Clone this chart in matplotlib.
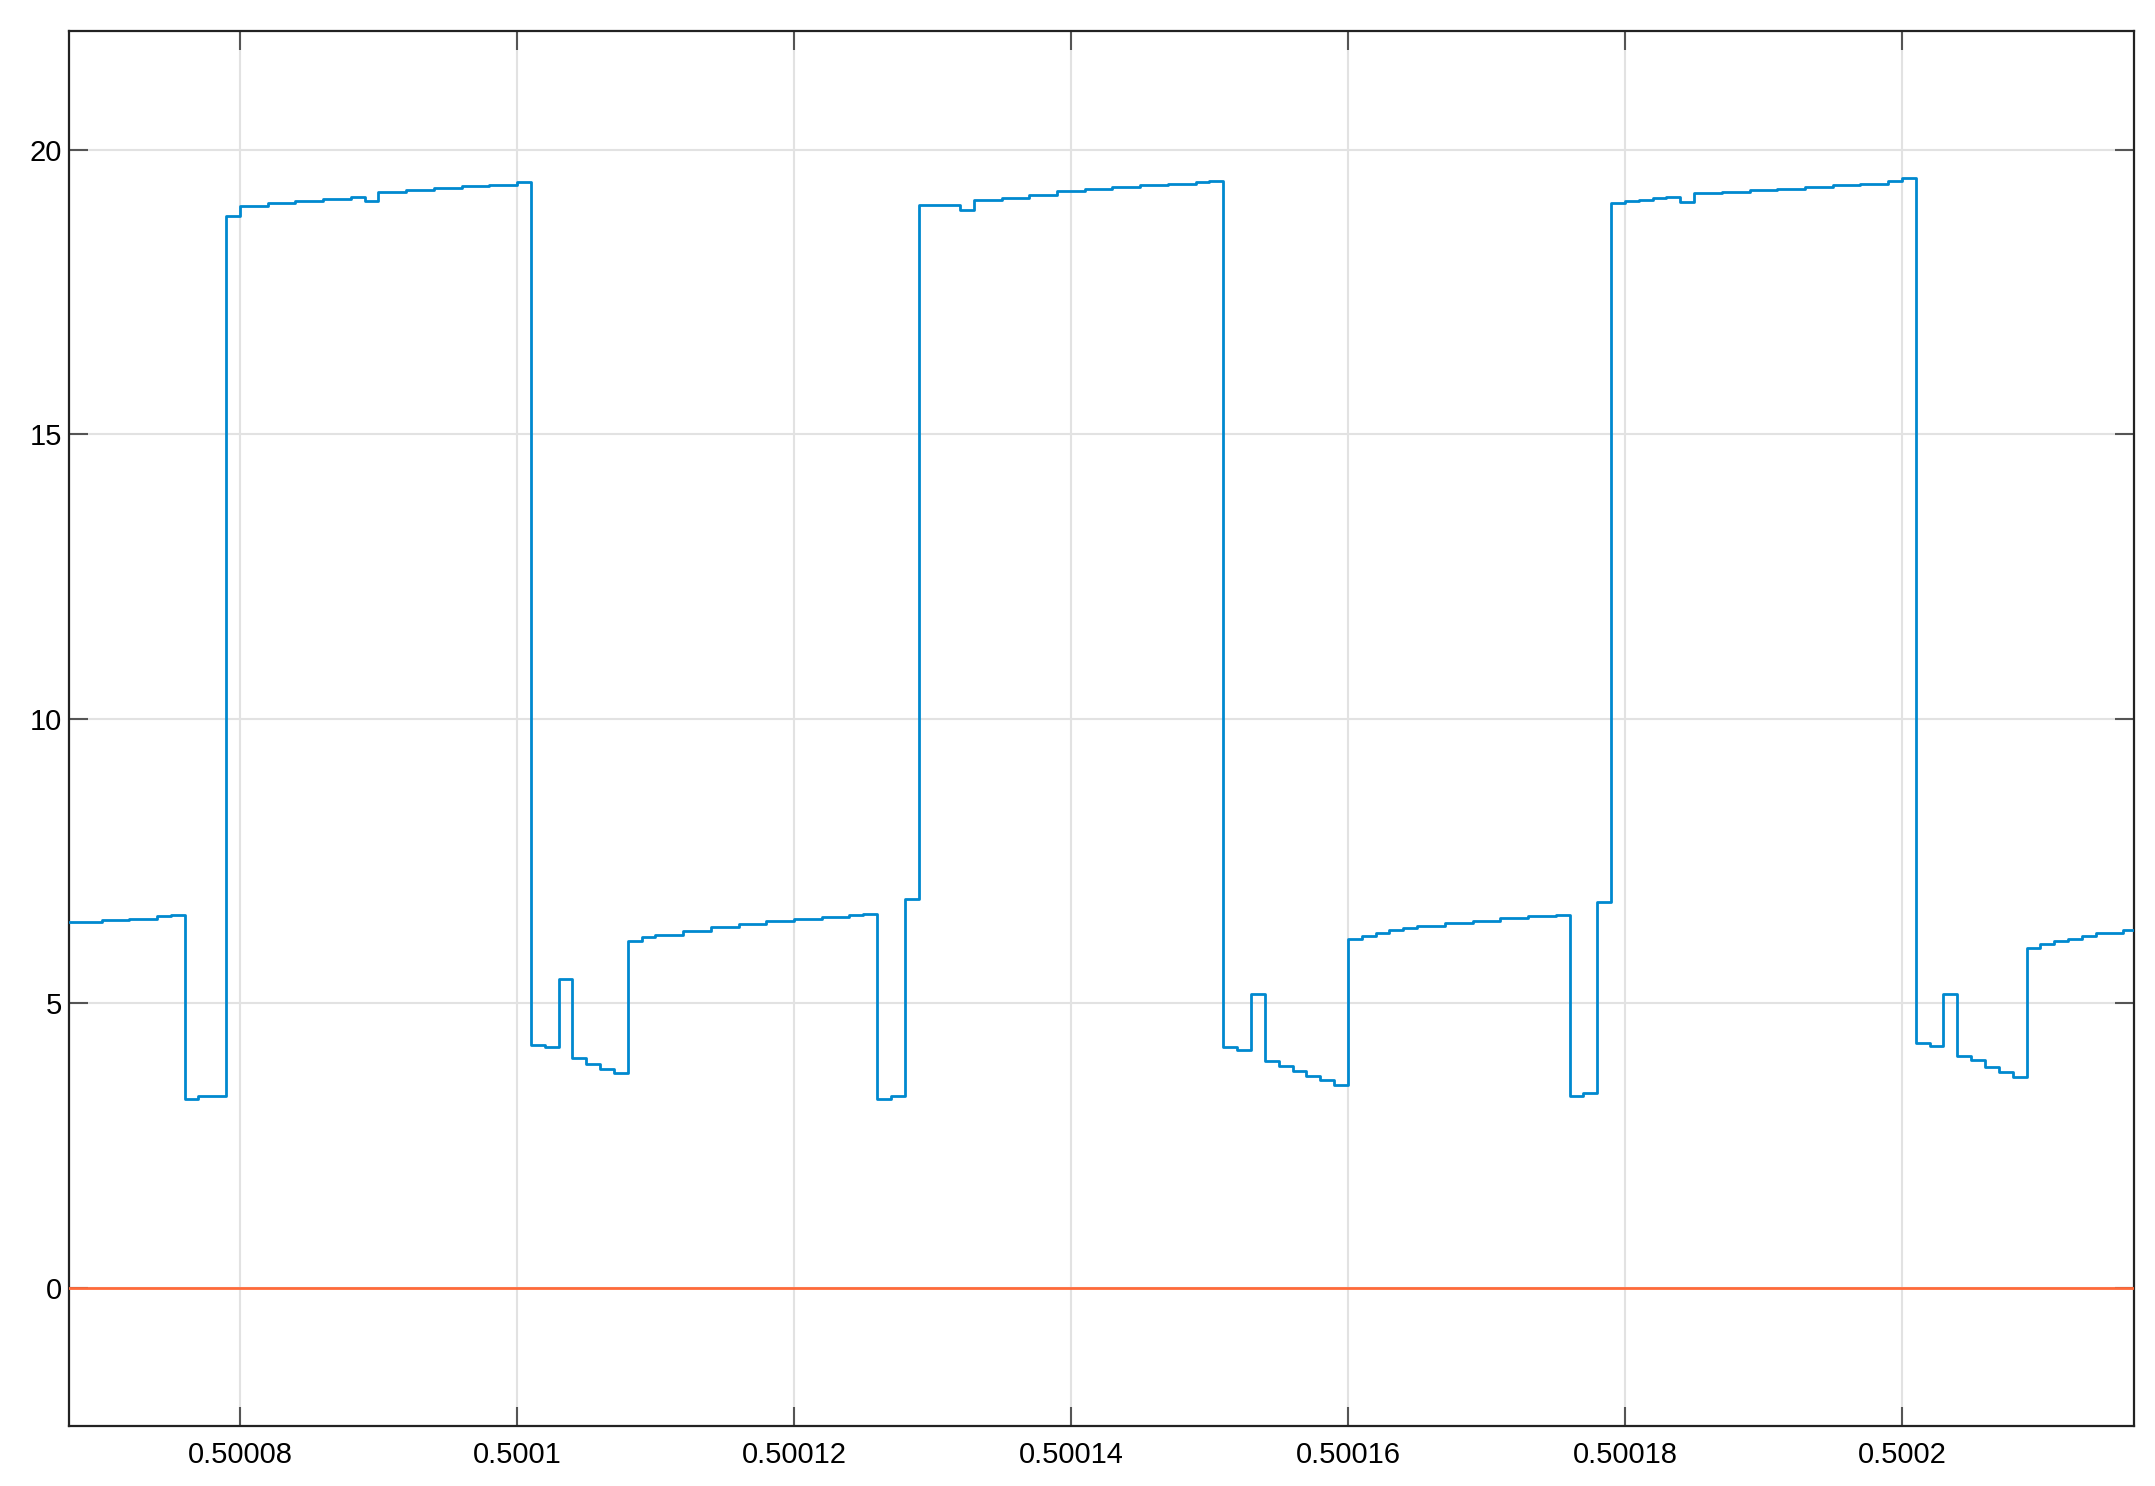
import matplotlib
matplotlib.use('Agg')
import matplotlib.pyplot as plt
import numpy as np

# time in microseconds after 0.5 s, sample-and-hold values
t_us = [67.6, 70, 72, 74, 75,
        76, 77, 79, 80, 82, 84, 86, 88, 89, 90, 92, 94, 96, 98, 100,
        101, 102, 103, 104, 105, 106, 107,
        108, 109, 110, 112, 114, 116, 118, 120, 122, 124, 125,
        126, 127, 128, 129, 132, 133, 135, 137, 139, 141, 143, 145, 147, 149, 150,
        151, 152, 153, 154, 155, 156, 157, 158, 159,
        160, 161, 162, 163, 164, 165, 167, 169, 171, 173, 175,
        176, 177, 178, 179, 180, 181, 182, 183, 184, 185, 187, 189, 191, 193, 195, 197, 199, 200,
        201, 202, 203, 204, 205, 206, 207, 208,
        209, 210, 211, 212, 213, 214, 216, 217]
volts = [6.43, 6.46, 6.49, 6.53, 6.56,
         3.33, 3.38, 18.84, 19.02, 19.06, 19.10, 19.14, 19.18, 19.11, 19.26, 19.29, 19.33, 19.36, 19.39, 19.43,
         4.27, 4.24, 5.43, 4.04, 3.94, 3.85, 3.77,
         6.09, 6.17, 6.21, 6.27, 6.35, 6.40, 6.45, 6.48, 6.52, 6.55, 6.57,
         3.33, 3.38, 6.83, 19.04, 18.95, 19.12, 19.16, 19.21, 19.28, 19.31, 19.35, 19.38, 19.41, 19.43, 19.45,
         4.24, 4.19, 5.17, 3.99, 3.90, 3.82, 3.73, 3.66, 3.57,
         6.13, 6.18, 6.24, 6.29, 6.33, 6.36, 6.41, 6.45, 6.50, 6.53, 6.56,
         3.38, 3.42, 6.79, 19.07, 19.10, 19.12, 19.15, 19.18, 19.08, 19.24, 19.27, 19.29, 19.31, 19.35, 19.38, 19.41, 19.45, 19.50,
         4.31, 4.26, 5.16, 4.08, 4.00, 3.88, 3.80, 3.71,
         5.97, 6.04, 6.10, 6.14, 6.19, 6.23, 6.29, 6.30]

ref_t_us = [67.6, 217]
ref_volts = [0, 0]

xticks = [0.50008, 0.5001, 0.50012, 0.50014, 0.50016, 0.50018, 0.5002]
xtick_labels = ['0.50008', '0.5001', '0.50012', '0.50014', '0.50016', '0.50018', '0.5002']
yticks = [0, 5, 10, 15, 20]

plt.rcParams['font.family'] = ['Liberation Sans', 'DejaVu Sans']

fig = plt.figure(figsize=(21.55, 14.86), dpi=100)
ax = fig.add_axes([0.0320, 0.0404, 0.9582, 0.9387])

t = 0.5 + np.array(t_us) * 1e-6
ref_t = 0.5 + np.array(ref_t_us) * 1e-6

ax.plot(ref_t, ref_volts, color='#FF6A3A', linewidth=2.0, zorder=3)
ax.plot(t, volts, color='#0089CF', linewidth=2.0, drawstyle='steps-post', zorder=4)

ax.set_xlim(0.5 + 67.65e-6, 0.5 + 216.75e-6)
ax.set_ylim(-2.425, 22.09)

ax.set_xticks(xticks)
ax.set_xticklabels(xtick_labels)
ax.set_yticks(yticks)
ax.set_yticklabels([str(v) for v in yticks])

ax.grid(True, color='#e2e2e2', linewidth=1.5, zorder=0)
ax.set_axisbelow(True)

ax.tick_params(axis='both', direction='in', length=14, width=1.5, color='#555555',
               labelsize=21, top=True, right=True)
ax.tick_params(axis='x', pad=11)
ax.tick_params(axis='y', pad=5)

for s in ax.spines.values():
    s.set_linewidth(1.6)
    s.set_color('#222222')

plt.savefig('out.png', dpi=100)
plt.close()
